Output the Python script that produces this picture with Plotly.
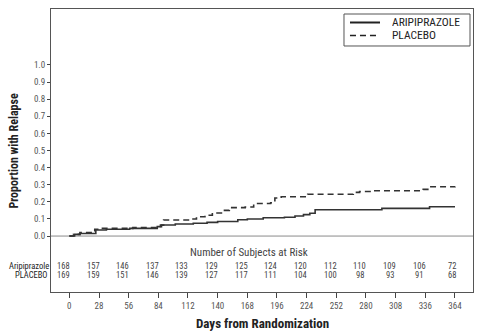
import plotly.graph_objects as go

# Kaplan-Meier style cumulative relapse (step data)
ari_days = [0, 5, 10, 25, 35, 57, 83, 87, 100, 117, 130, 140, 159, 168, 183, 203, 213, 221, 227, 232, 295, 340, 364]
ari_vals = [0, 0.01, 0.015, 0.035, 0.04, 0.045, 0.055, 0.065, 0.07, 0.075, 0.08, 0.085, 0.095, 0.1, 0.107, 0.11,
            0.117, 0.125, 0.133, 0.154, 0.162, 0.171, 0.171]
pla_days = [0, 4, 10, 24, 30, 60, 86, 89, 114, 120, 128, 135, 145, 151, 166, 174, 190, 194, 200, 225, 268, 274,
            285, 334, 340, 364]
pla_vals = [0, 0.01, 0.02, 0.04, 0.045, 0.05, 0.064, 0.094, 0.1, 0.113, 0.122, 0.135, 0.15, 0.166, 0.17, 0.19,
            0.195, 0.222, 0.23, 0.244, 0.255, 0.26, 0.265, 0.273, 0.288, 0.29]

risk_days = [0, 28, 56, 84, 112, 140, 168, 196, 224, 252, 280, 308, 336, 364]
risk_ari = [168, 157, 146, 137, 133, 129, 125, 124, 120, 112, 110, 109, 106, 72]
risk_pla = [169, 159, 151, 146, 139, 127, 117, 111, 104, 100, 98, 93, 91, 68]
y_ticks = [0.0, 0.1, 0.2, 0.3, 0.4, 0.5, 0.6, 0.7, 0.8, 0.9, 1.0]
series_names = ["ARIPIPRAZOLE", "PLACEBO"]

FONT = "Liberation Sans Narrow, Arial Narrow, Roboto Condensed, DejaVu Sans Condensed, sans-serif"
LINE_COLOR = "#333333"
DASH = "6px,4px"

fig = go.Figure()
fig.add_trace(go.Scatter(x=ari_days, y=ari_vals, mode="lines", line=dict(shape="hv", color=LINE_COLOR, width=1.6),
                         name=series_names[0], showlegend=False))
fig.add_trace(go.Scatter(x=pla_days, y=pla_vals, mode="lines",
                         line=dict(shape="hv", color=LINE_COLOR, width=1.6, dash=DASH), name=series_names[1],
                         showlegend=False))

LEG_Y1, LEG_Y2 = 0.9523, 0.9064

shapes = []
# zero line across the full width
shapes.append(dict(type="line", xref="paper", yref="y", x0=0, x1=1, y0=0, y1=0,
                   line=dict(color="#8a8a8a", width=1), layer="below"))
# compact legend box (drawn in paper coordinates)
shapes.append(dict(type="rect", xref="paper", yref="paper", x0=0.6943, x1=0.9929, y0=0.8693, y1=0.9823,
                   line=dict(color="#555555", width=1), fillcolor="white"))
shapes.append(dict(type="line", xref="paper", yref="paper", x0=0.7085, x1=0.7796, y0=LEG_Y1, y1=LEG_Y1,
                   line=dict(color="#222222", width=2)))
shapes.append(dict(type="line", xref="paper", yref="paper", x0=0.7085, x1=0.7796, y0=LEG_Y2, y1=LEG_Y2,
                   line=dict(color="#222222", width=1.6, dash=DASH)))

ann = []
ann.append(dict(text=series_names[0], xref="paper", yref="paper", x=0.8033, y=LEG_Y1, showarrow=False,
                font=dict(size=11.5, color="#222222"), xanchor="left", yanchor="middle", height=12))
ann.append(dict(text=series_names[1], xref="paper", yref="paper", x=0.8033, y=LEG_Y2, showarrow=False,
                font=dict(size=11.5, color="#222222"), xanchor="left", yanchor="middle", height=12))
ann.append(dict(text="Number of Subjects at Risk", xref="paper", yref="y", x=0.469, y=-0.094, showarrow=False,
                font=dict(size=11, color="#444444"), xanchor="center", yanchor="middle"))
for d, a, p in zip(risk_days, risk_ari, risk_pla):
    shift = -3 if d == risk_days[-1] else -6
    ann.append(dict(text=str(a), x=d, y=-0.175, xref="x", yref="y", showarrow=False, xshift=shift,
                    font=dict(size=8.5, color="#444444"), xanchor="center", yanchor="middle"))
    ann.append(dict(text=str(p), x=d, y=-0.228, xref="x", yref="y", showarrow=False, xshift=shift,
                    font=dict(size=8.5, color="#444444"), xanchor="center", yanchor="middle"))
ann.append(dict(text="Aripiprazole", xref="paper", yref="y", x=-0.001, y=-0.175, showarrow=False,
                font=dict(size=8.5, color="#222222"), xanchor="right", yanchor="middle"))
ann.append(dict(text="PLACEBO", xref="paper", yref="y", x=-0.004, y=-0.228, showarrow=False,
                font=dict(size=8.5, color="#222222"), xanchor="right", yanchor="middle"))
ann.append(dict(text="<b>Proportion with Relapse</b>", xref="paper", yref="paper", x=-0.09, y=0.5, textangle=-90,
                showarrow=False, font=dict(size=12, color="#222222"), xanchor="center", yanchor="middle"))
ann.append(dict(text="<b>Days from Randomization</b>", xref="paper", yref="paper", x=0.5, y=-0.11,
                showarrow=False, font=dict(size=13, color="#222222"), xanchor="center", yanchor="middle"))

fig.update_layout(
    width=480, height=334,
    margin=dict(l=51, r=7, t=9, b=42),
    paper_bgcolor="white", plot_bgcolor="white",
    font=dict(family=FONT, size=9, color="#555555"),
    showlegend=False,
    shapes=shapes,
    annotations=ann,
    xaxis=dict(range=[-17.3, 381], tickvals=risk_days, ticks="outside", ticklen=5, tickcolor="#444444",
               showline=True, linecolor="#555555", linewidth=1, mirror=True, showgrid=False, zeroline=False,
               tickfont=dict(size=9, color="#555555")),
    yaxis=dict(range=[-0.327, 1.327], tickvals=y_ticks, tickformat=".1f", ticks="outside", ticklen=3,
               tickcolor="#444444", showline=True, linecolor="#555555", linewidth=1, mirror=True, showgrid=False,
               zeroline=False, tickfont=dict(size=9, color="#555555")),
)

fig.write_html("out.html")
